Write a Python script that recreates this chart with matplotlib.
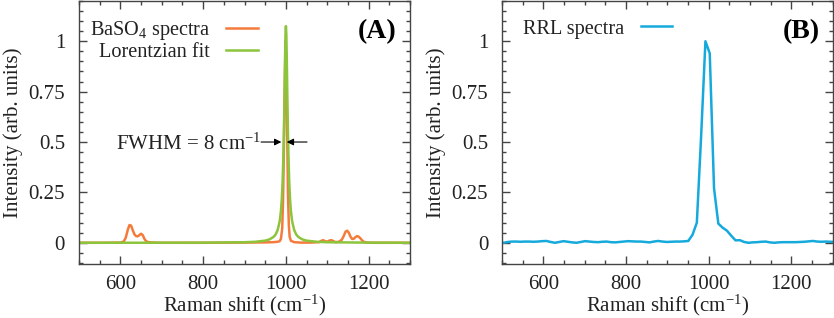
import numpy as np
import matplotlib
matplotlib.use("Agg")
import matplotlib.pyplot as plt
from matplotlib.ticker import MultipleLocator, FuncFormatter

plt.rcParams['font.family'] = ['Liberation Serif', 'DejaVu Serif']
plt.rcParams['mathtext.fontset'] = 'custom'
plt.rcParams['mathtext.rm'] = 'Liberation Serif'
plt.rcParams['mathtext.it'] = 'Liberation Serif:italic'
plt.rcParams['font.size'] = 15

# BaSO4 measured spectrum (panel A)
baso4_x = [500, 560, 600, 608, 613, 618, 622, 626, 630, 634, 638, 642, 646, 650, 654, 658,
           662, 668, 680, 700, 800, 900, 950, 970, 980, 985, 988, 991, 993, 995, 997, 999,
           1001, 1003, 1005, 1007, 1009, 1012, 1020, 1035, 1060, 1080, 1085, 1090, 1095,
           1100, 1105, 1110, 1115, 1120, 1128, 1135, 1140, 1144, 1148, 1152, 1156, 1160,
           1164, 1168, 1172, 1176, 1180, 1184, 1188, 1195, 1210, 1250, 1300]
baso4_y = [0.0, 0.0, 0.001, 0.006, 0.025, 0.065, 0.088, 0.085, 0.062, 0.042, 0.033, 0.032,
           0.038, 0.045, 0.038, 0.02, 0.008, 0.003, 0.001, 0.0, 0.0, 0.001, 0.002, 0.003,
           0.005, 0.008, 0.02, 0.07, 0.2, 0.45, 0.75, 1.0, 0.88, 0.55, 0.24, 0.09, 0.03,
           0.01, 0.003, 0.001, 0.001, 0.003, 0.009, 0.013, 0.007, 0.006, 0.011, 0.013,
           0.008, 0.003, 0.005, 0.015, 0.035, 0.055, 0.06, 0.05, 0.03, 0.019, 0.02, 0.028,
           0.033, 0.03, 0.022, 0.012, 0.005, 0.001, 0.0, 0.0, 0.0]

# Lorentzian fit, read as offsets from the 1000 cm-1 centre
fit_dx = [0, 1, 2, 3, 4, 5, 6, 8, 10, 12, 15, 20, 25, 30, 40, 50, 75, 100, 200, 300, 500]
fit_val = [1.075, 1.034, 0.927, 0.79, 0.655, 0.537, 0.441, 0.302, 0.215, 0.159, 0.107,
           0.063, 0.041, 0.029, 0.0165, 0.0106, 0.0048, 0.0027, 0.0007, 0.0003, 0.0001]
fit_x = np.concatenate([1000 - np.array(fit_dx[::-1]), 1000 + np.array(fit_dx[1:])])
fit_y = np.concatenate([fit_val[::-1], fit_val[1:]])

# RRL spectrum (panel B), sampled every ~10.4 cm-1
rrl_x = np.arange(492.8, 1310, 10.4)
rrl_y = [0.003, 0.0, 0.004, 0.006, 0.006, 0.005, 0.006, 0.006, 0.005, 0.006,
         0.008, 0.009, 0.004, 0.0, 0.004, 0.008, 0.005, 0.002, 0.0, 0.004,
         0.008, 0.006, 0.004, 0.003, 0.005, 0.006, 0.003, 0.002, 0.004, 0.006,
         0.008, 0.007, 0.006, 0.006, 0.004, 0.002, 0.006, 0.009, 0.006, 0.004,
         0.005, 0.006, 0.006, 0.007, 0.009, 0.04, 0.10, 0.53, 1.0, 0.94,
         0.27, 0.095, 0.075, 0.06, 0.035, 0.012, 0.013, 0.004, 0.0, 0.002,
         0.003, 0.005, 0.006, 0.002, 0.0, 0.002, 0.003, 0.003, 0.003, 0.003,
         0.004, 0.005, 0.007, 0.009, 0.006, 0.005, 0.006, 0.005, 0.004]

orange = '#f47b3c'
green = '#8cc43c'
cyan = '#16aadc'
txt = '#222222'

fig = plt.figure(figsize=(8.34, 3.18), dpi=100)
axA = fig.add_axes([0.0947, 0.170, 0.397, 0.827])
axB = fig.add_axes([0.602, 0.170, 0.3965, 0.827])


def style(ax):
    ax.set_xlim(500, 1300)
    ax.set_ylim(-0.105, 1.2)
    ax.xaxis.set_major_locator(MultipleLocator(200))
    ax.xaxis.set_minor_locator(MultipleLocator(50))
    ax.yaxis.set_major_locator(MultipleLocator(0.25))
    ax.yaxis.set_minor_locator(MultipleLocator(0.05))
    ax.yaxis.set_major_formatter(FuncFormatter(lambda v, p: '%g' % v))
    ax.tick_params(which='both', direction='in', top=True, right=True,
                   colors='#444444', labelcolor=txt, labelsize=15)
    ax.tick_params(which='major', length=6, width=1)
    ax.tick_params(axis='x', which='major', pad=8)
    ax.tick_params(axis='y', which='major', pad=10)
    ax.tick_params(which='minor', length=3, width=1)
    for s in ax.spines.values():
        s.set_color('#444444')
        s.set_linewidth(1)
    ax.set_xlabel('Raman shift (cm$^{-1}$)', color=txt, fontsize=15, labelpad=-1)
    ax.set_ylabel('Intensity (arb. units)', color=txt, fontsize=15, labelpad=4)


style(axA)
axA.plot(baso4_x, baso4_y, color=orange, lw=1.8, label='BaSO$_4$ spectra')
axA.plot(fit_x, fit_y, color=green, lw=1.8, label='Lorentzian fit')
axA.legend(loc='upper right', bbox_to_anchor=(0.54, 0.93), frameon=False,
           markerfirst=False, handlelength=1.55, handletextpad=0.8,
           labelspacing=0.02, borderpad=0, borderaxespad=0, fontsize=14.6,
           labelcolor=txt)
axA.text(0.96, 0.885, '(A)', transform=axA.transAxes, ha='right', va='center',
         fontsize=20, fontweight='bold', color='black')
axA.annotate('', xy=(989, 0.5), xytext=(940, 0.5),
             arrowprops=dict(arrowstyle='-|>', color='black', lw=0.8,
                             mutation_scale=10, shrinkA=0, shrinkB=0))
axA.annotate('', xy=(1002, 0.5), xytext=(1051, 0.5),
             arrowprops=dict(arrowstyle='-|>', color='black', lw=0.8,
                             mutation_scale=10, shrinkA=0, shrinkB=0))
axA.text(940, 0.5, 'FWHM = 8 cm$^{-1}$', ha='right', va='center_baseline',
         fontsize=15, color=txt)

style(axB)
axB.plot(rrl_x, rrl_y, color=cyan, lw=1.8, label='RRL spectra')
axB.legend(loc='upper right', bbox_to_anchor=(0.514, 0.93), frameon=False,
           markerfirst=False, handlelength=1.55, handletextpad=0.8,
           borderpad=0, borderaxespad=0, fontsize=14.6, labelcolor=txt)
axB.text(0.96, 0.885, '(B)', transform=axB.transAxes, ha='right', va='center',
         fontsize=20, fontweight='bold', color='black')

fig.savefig('out.png', dpi=100)
